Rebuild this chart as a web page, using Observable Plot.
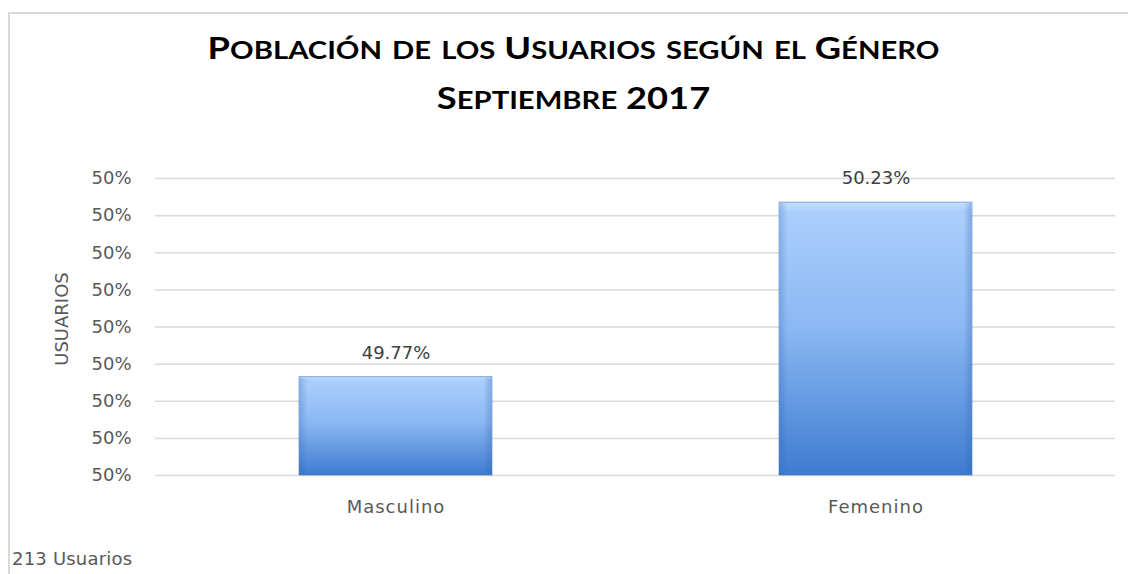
<!DOCTYPE html>
<html>
<head>
<meta charset="utf-8">
<script src="https://cdn.jsdelivr.net/npm/d3@7"></script>
<script src="https://cdn.jsdelivr.net/npm/@observablehq/plot@0.6"></script>
<style>
  html, body { margin: 0; padding: 0; background: #fff; width: 1128px; height: 574px; overflow: hidden; }
  #frame { position: absolute; left: 8px; top: 12px; width: 1140px; height: 580px;
           border-left: 2px solid #d9d9d9; border-top: 2px solid #d9d9d9; box-sizing: border-box; }
  .title { position: absolute; left: 0; width: 1147px; text-align: center;
           font-family: Lato, "Open Sans", sans-serif; font-weight: bold; font-variant: small-caps;
           font-size: 31px; color: #000; line-height: 40px; height: 40px; white-space: nowrap;
           transform: scaleX(1.17); transform-origin: 573.5px 50%; }
  .sc { font-size: 1.143em; }
  #chart { position: absolute; left: 0; top: 140px; }
  #chart g[aria-label="x-axis tick label"] text { letter-spacing: 1px; }
  #caption { position: absolute; left: 12px; top: 550px; font-family: "DejaVu Sans", sans-serif;
             font-size: 18px; color: #595959; line-height: 1; letter-spacing: 0.2px; }
</style>
</head>
<body>
<div id="frame"></div>
<div class="title" style="top:26px">P<span class="sc">oblación de los</span> U<span class="sc">suarios según el</span> G<span class="sc">énero</span></div>
<div class="title" style="top:76px">S<span class="sc">eptiembre</span> 2017</div>
<div id="chart"></div>
<div id="caption">213 Usuarios</div>
<script>
const categories = ["Masculino", "Femenino"];
const values = [0.49765, 0.50235];
const valueLabels = ["49.77%", "50.23%"];
const yTicks = [0.495, 0.496, 0.497, 0.498, 0.499, 0.500, 0.501, 0.502, 0.503];
const yTickLabels = ["50%", "50%", "50%", "50%", "50%", "50%", "50%", "50%", "50%"];
const yMin = 0.495, yMax = 0.503;

const data = categories.map((c, i) => ({ category: c, value: values[i], label: valueLabels[i] }));

const plot = Plot.plot({
  width: 1128,
  height: 390,
  marginTop: 38,
  marginBottom: 55,
  marginLeft: 155,
  marginRight: 13,
  style: { fontFamily: "DejaVu Sans, sans-serif", fontSize: "18px", color: "#595959", background: "transparent" },
  x: { domain: categories, paddingInner: 0.598, paddingOuter: 0.299, label: null },
  y: { domain: [yMin, yMax], label: null },
  marks: [
    Plot.gridY(yTicks, { stroke: "#d9d9d9", strokeOpacity: 1, strokeWidth: 1.5 }),
    Plot.axisY({ ticks: yTicks, tickFormat: (d, i) => yTickLabels[i], tickSize: 0, tickPadding: 24, label: null }),
    Plot.axisX({ tickSize: 0, tickPadding: 25, label: null }),
    Plot.barY(data, { x: "category", y1: () => yMin, y2: "value", fill: "url(#barGrad)", stroke: "#3b6fb6", strokeOpacity: 0.55, strokeWidth: 1 }),
    Plot.barY(data, { x: "category", y1: () => yMin, y2: "value", fill: "url(#sideGrad)", inset: 1 }),
    Plot.text(data, { x: "category", y: "value", text: "label", dy: -24, fill: "#404040", fontSize: 18 }),
    Plot.text(["USUARIOS"], { frameAnchor: "left", textAnchor: "middle", dx: -93, dy: -8, rotate: -90, fill: "#595959", fontSize: 18 })
  ]
});

const ns = "http://www.w3.org/2000/svg";
const defs = document.createElementNS(ns, "defs");
defs.innerHTML = `
  <linearGradient id="barGrad" x1="0" y1="0" x2="0" y2="1">
    <stop offset="0" stop-color="#c4e0ff"/>
    <stop offset="0.035" stop-color="#aacffc"/>
    <stop offset="0.45" stop-color="#8cb9f3"/>
    <stop offset="1" stop-color="#3f7bd0"/>
  </linearGradient>
  <linearGradient id="sideGrad" x1="0" y1="0" x2="1" y2="0">
    <stop offset="0" stop-color="#2a5fae" stop-opacity="0.25"/>
    <stop offset="0.04" stop-color="#2a5fae" stop-opacity="0"/>
    <stop offset="0.96" stop-color="#2a5fae" stop-opacity="0"/>
    <stop offset="1" stop-color="#2a5fae" stop-opacity="0.3"/>
  </linearGradient>`;
plot.insertBefore(defs, plot.firstChild);
document.getElementById("chart").appendChild(plot);
</script>
</body>
</html>
